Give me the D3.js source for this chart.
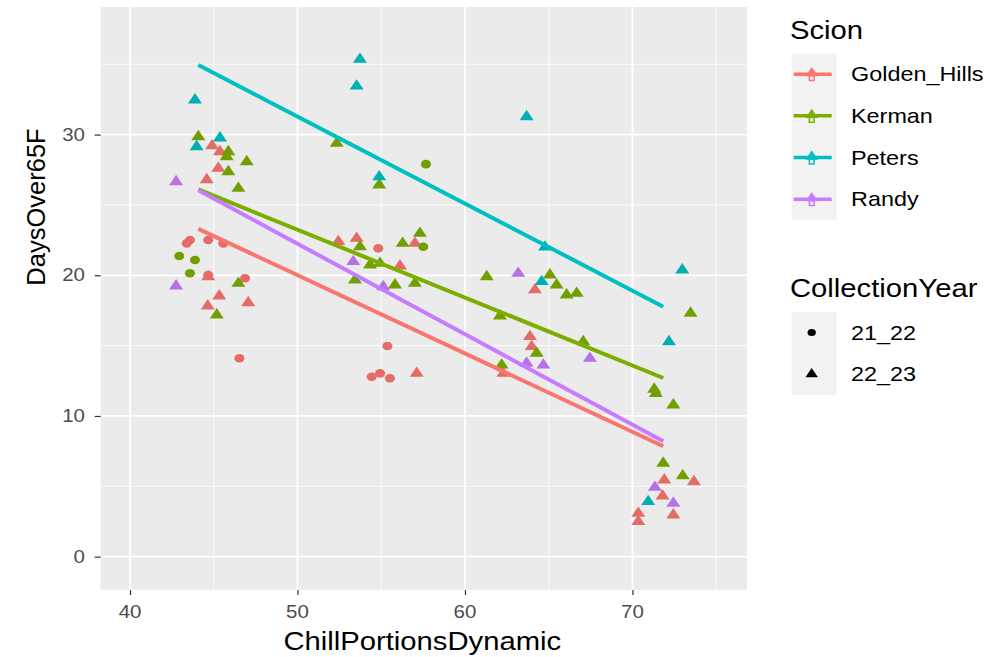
<!DOCTYPE html>
<html>
<head>
<meta charset="utf-8">
<script src="https://cdn.jsdelivr.net/npm/d3@7"></script>
<style>
  body { margin: 0; background: #fff; }
  text { font-family: "Liberation Sans", Arial, sans-serif; }
</style>
</head>
<body>
<svg id="chart" width="1005" height="657"></svg>
<script>
// categories
var scions = ["Golden_Hills", "Kerman", "Peters", "Randy"];
var years = ["21_22", "22_23"];
var xTicks = [40, 50, 60, 70];
var yTicks = [0, 10, 20, 30];

// points per scion: [ChillPortionsDynamic, DaysOver65F, year index]
var goldenHills = [
  [43.39,22.27,0],[43.58,22.51,0],[44.67,22.51,0],[45.57,22.27,0],[44.67,20.02,0],[46.87,19.79,0],
  [46.53,14.1,0],[54.82,21.92,0],[55.37,14.97,0],[54.43,12.79,0],[54.93,13.03,0],[55.52,12.68,0],
  [44.58,26.79,1],[45.37,28.78,1],[45.27,27.6,1],[44.9,29.2,1],[45.33,18.53,1],[44.64,17.82,1],
  [47.06,18.05,1],[44.67,19.9,1],[52.44,22.39,1],[53.53,22.63,1],[57.01,22.27,1],[56.12,20.66,1],
  [57.12,13.03,1],[62.29,13.03,1],[63.88,15.64,1],[63.98,14.93,1],[64.18,18.96,1],[71.9,5.45,1],
  [73.67,5.33,1],[71.8,4.31,1],[70.35,3.08,1],[70.35,2.49,1],[72.44,2.96,1]
];
var kerman = [
  [42.94,21.37,0],[43.88,21.09,0],[43.58,20.14,0],[57.67,27.9,0],[57.51,22.03,0],
  [44.08,29.85,1],[45.87,28.78,1],[45.77,28.43,1],[46.97,28.07,1],[45.87,27.36,1],[46.47,26.18,1],
  [46.47,19.43,1],[45.18,17.18,1],[52.34,29.38,1],[54.88,26.42,1],[53.73,22.03,1],[56.28,22.27,1],
  [57.31,22.98,1],[54.33,20.73,1],[54.93,20.85,1],[53.43,19.67,1],[55.82,19.31,1],[57.01,19.43,1],
  [61.3,19.9,1],[62.09,17.11,1],[62.19,13.62,1],[65.07,20.02,1],[65.47,19.31,1],[66.07,18.6,1],
  [66.67,18.72,1],[67.06,15.28,1],[64.28,14.46,1],[71.3,11.9,1],[71.4,11.6,1],[72.44,10.78,1],
  [71.84,6.64,1],[73.0,5.74,1],[73.47,17.3,1]
];
var peters = [
  [43.88,32.46,1],[43.98,29.14,1],[45.37,29.76,1],[53.73,35.35,1],[53.53,33.45,1],[63.68,31.27,1],
  [54.88,27.0,1],[64.78,22.0,1],[64.58,19.55,1],[72.97,20.38,1],[72.18,15.28,1],[70.94,3.91,1]
];
var randy = [
  [42.75,26.65,1],[42.75,19.24,1],[53.33,20.97,1],[55.12,19.19,1],[63.18,20.14,1],[67.46,14.1,1],
  [63.68,13.75,1],[64.68,13.62,1],[71.34,4.93,1],[72.44,3.8,1]
];
var pointSets = [goldenHills, kerman, peters, randy];

// linear fits, one per scion, evaluated at the ends of fitX
var fitX = [44.08, 71.84];
var fitStart = [23.3, 26.1, 34.95, 26.05];
var fitEnd = [7.85, 12.7, 17.77, 8.2];

var colors = ["#F8766D", "#7CAE00", "#00BFC4", "#C77CFF"];
var SX = 1.17; // the picture is a little wider than it is tall

var svg = d3.select("#chart");
var panel = {left: 100.7, right: 747, top: 7, bottom: 590};

var x = d3.scaleLinear().domain([38.25, 76.84]).range([panel.left, panel.right]);
var y = d3.scaleLinear().domain([-2.37, 39.07]).range([panel.bottom, panel.top]);

function label(g, px, py, str, size, anchor, fill) {
  return g.append("text")
    .attr("transform", "translate(" + px + "," + py + ") scale(" + SX + ",1)")
    .attr("text-anchor", anchor)
    .attr("font-size", size)
    .attr("fill", fill)
    .text(str);
}

// panel + grid
svg.append("rect").attr("x", panel.left).attr("y", panel.top)
   .attr("width", panel.right - panel.left).attr("height", panel.bottom - panel.top)
   .attr("fill", "#EBEBEB");

var xMinor = [45, 55, 65, 75], yMinor = [5, 15, 25, 35];
var grid = svg.append("g");
grid.selectAll(".vmin").data(xMinor).enter().append("line")
  .attr("x1", d => x(d)).attr("x2", d => x(d)).attr("y1", panel.top).attr("y2", panel.bottom)
  .attr("stroke", "#fff").attr("stroke-width", 0.8);
grid.selectAll(".hmin").data(yMinor).enter().append("line")
  .attr("y1", d => y(d)).attr("y2", d => y(d)).attr("x1", panel.left).attr("x2", panel.right)
  .attr("stroke", "#fff").attr("stroke-width", 0.8);
grid.selectAll(".vmaj").data(xTicks).enter().append("line")
  .attr("x1", d => x(d)).attr("x2", d => x(d)).attr("y1", panel.top).attr("y2", panel.bottom)
  .attr("stroke", "#fff").attr("stroke-width", 1.8);
grid.selectAll(".hmaj").data(yTicks).enter().append("line")
  .attr("y1", d => y(d)).attr("y2", d => y(d)).attr("x1", panel.left).attr("x2", panel.right)
  .attr("stroke", "#fff").attr("stroke-width", 1.8);

// axes
var xAxis = svg.append("g").attr("transform", "translate(0," + panel.bottom + ")")
  .call(d3.axisBottom(x).tickValues(xTicks).tickSize(5).tickFormat(""));
var yAxis = svg.append("g").attr("transform", "translate(" + panel.left + ",0)")
  .call(d3.axisLeft(y).tickValues(yTicks).tickSize(6).tickFormat(""));
[xAxis, yAxis].forEach(function(a) {
  a.select(".domain").remove();
  a.selectAll(".tick line").attr("stroke", "#333").attr("stroke-width", 1.2);
});
xTicks.forEach(function(t) { label(svg, x(t), 618, t, 17.5, "middle", "#4D4D4D"); });
yTicks.forEach(function(t) { label(svg, 85, y(t) + 6, t, 17.5, "end", "#4D4D4D"); });

label(svg, x(57.45), 650, "ChillPortionsDynamic", 25, "middle", "#000");
svg.append("text")
  .attr("transform", "translate(45,207) rotate(-90)")
  .attr("text-anchor", "middle")
  .attr("font-size", 25.5)
  .attr("fill", "#000")
  .text("DaysOver65F");

// points
var triangle = d3.symbol().type(d3.symbolTriangle).size(62);
var circle = d3.symbol().type(d3.symbolCircle).size(58);
var pts = svg.append("g");
pointSets.forEach(function(set, i) {
  pts.selectAll(".p" + i).data(set).enter().append("path")
    .attr("d", d => d[2] === 0 ? circle() : triangle())
    .attr("transform", d => "translate(" + x(d[0]) + "," + y(d[1]) + ") scale(" + SX + ",1)")
    .attr("fill", d3.color(colors[i]).darker(0.25));
});

// fitted lines
var line = d3.line().x(d => x(d[0])).y(d => y(d[1]));
scions.forEach(function(s, i) {
  svg.append("path")
    .datum([[fitX[0], fitStart[i]], [fitX[1], fitEnd[i]]])
    .attr("d", line)
    .attr("fill", "none")
    .attr("stroke", colors[i])
    .attr("stroke-width", 4)
    .attr("stroke-linecap", "butt");
});

// legends
var lg = svg.append("g");
var keyX = 791.7, keyW = 45, keyH = 41.7;
label(lg, 790, 39, "Scion", 25, "start", "#000");
lg.append("rect").attr("x", keyX).attr("y", 53.3).attr("width", keyW).attr("height", keyH * scions.length).attr("fill", "#F2F2F2");
scions.forEach(function(s, i) {
  var cy = 53.3 + keyH * (i + 0.5);
  lg.append("line").attr("x1", keyX + 2).attr("x2", keyX + keyW - 5).attr("y1", cy).attr("y2", cy)
    .attr("stroke", colors[i]).attr("stroke-width", 3.5);
  lg.append("path").attr("d", d3.symbol().type(d3.symbolTriangle).size(50)())
    .attr("transform", "translate(" + (keyX + 20) + "," + (cy - 1) + ") scale(" + SX + ",1)").attr("fill", colors[i]);
  lg.append("path").attr("d", d3.symbol().type(d3.symbolSquare).size(22)())
    .attr("transform", "translate(" + (keyX + 20) + "," + (cy + 4) + ")").attr("fill", "none")
    .attr("stroke", colors[i]).attr("stroke-width", 1.5);
  label(lg, 851, cy + 7, s, 20, "start", "#000");
});

label(lg, 790, 297, "CollectionYear", 25, "start", "#000");
lg.append("rect").attr("x", keyX).attr("y", 311.7).attr("width", keyW).attr("height", keyH * years.length).attr("fill", "#F2F2F2");
years.forEach(function(yr, i) {
  var cy = 311.7 + keyH * (i + 0.5);
  var sym = i === 0 ? d3.symbol().type(d3.symbolCircle).size(40) : d3.symbol().type(d3.symbolTriangle).size(50);
  lg.append("path").attr("d", sym())
    .attr("transform", "translate(" + (keyX + 20) + "," + cy + ") scale(" + SX + ",1)").attr("fill", "#000");
  label(lg, 851, cy + 7, yr, 20, "start", "#000");
});
</script>
</body>
</html>
